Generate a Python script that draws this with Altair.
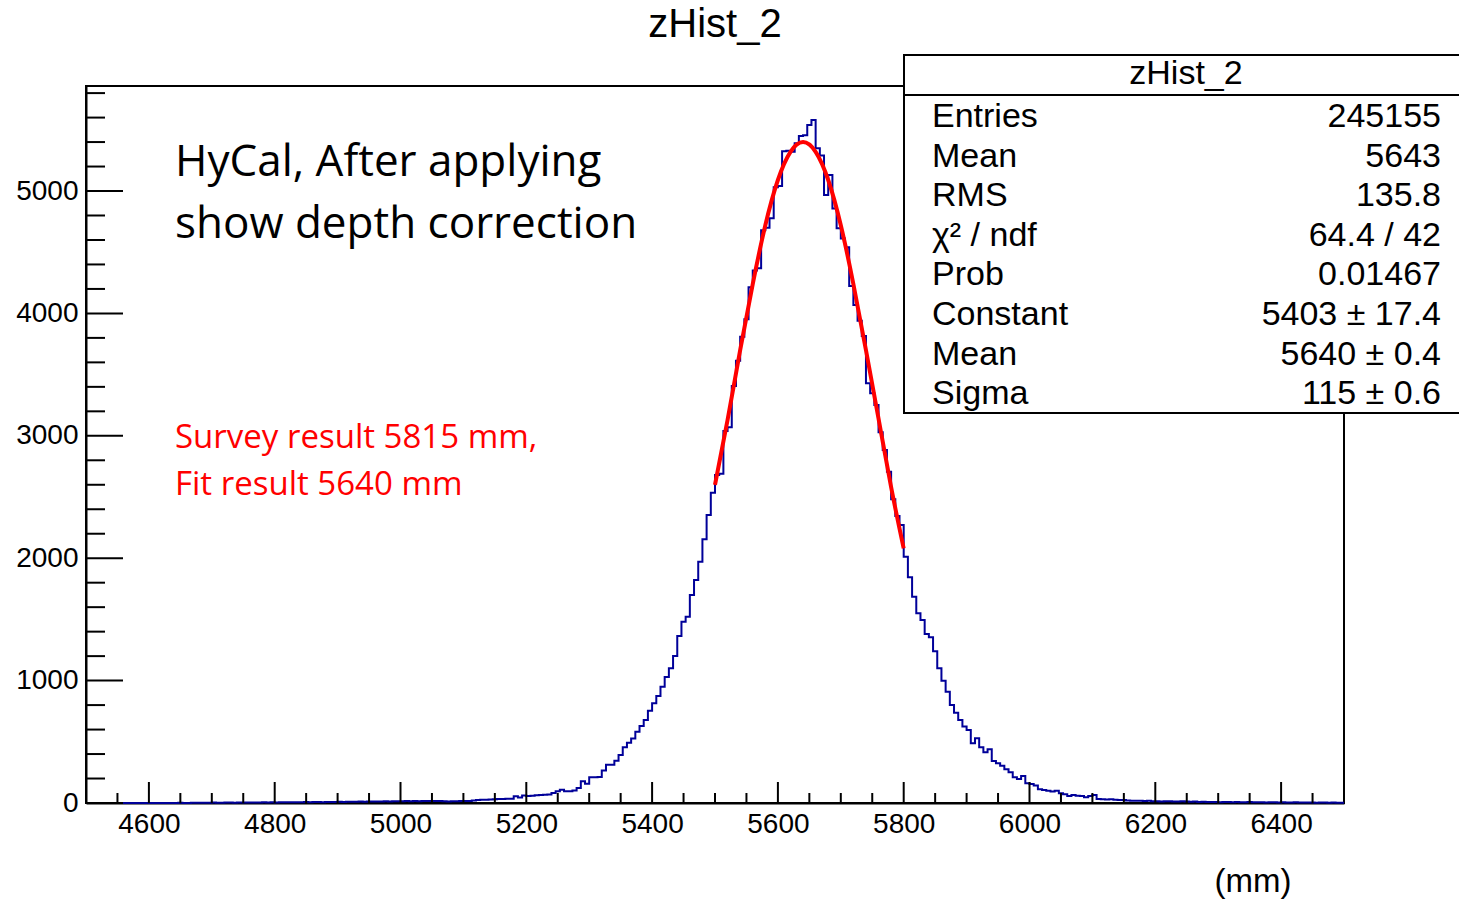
import altair as alt
import pandas as pd

# ---------------- data ----------------
x_min, x_max = 4500, 6500
n_bins = 300
counts = (
    [0, 0, 0, 0, 1, 0, 0, 1, 0, 0, 1, 0, 1, 0, 0, 1, 1, 0, 1, 1, 0, 1, 2, 1, 1, 2, 2]
    + [3, 2, 3, 4, 3, 3, 4, 4, 3, 5, 4, 5, 5, 4, 5, 6, 5, 6, 5, 6, 7, 6, 7, 6, 7, 8, 7, 8, 8, 7, 9, 8, 9]
    + [10, 9, 10, 11, 10, 12, 11, 12, 13, 12, 13, 14, 13, 15, 14, 15, 16, 15, 16, 15, 17, 16, 17, 16, 17]
    + [14, 13, 15, 14, 16, 17, 16, 20, 24, 27, 26, 28, 31, 33, 32, 35, 34]
    + [55, 45, 62, 58, 60, 63, 65, 67, 70, 82, 95, 109, 95, 96, 103, 122, 177, 158, 210, 210,
       212, 265, 313, 313, 346, 393, 455, 493, 528, 583, 629, 678, 754, 814, 874, 950, 1030, 1100, 1201, 1364]
    + [1481, 1522, 1699, 1822, 1971, 2154, 2353, 2535, 2680, 2690, 3040, 3070, 3407, 3614, 3810,
       3952, 4213, 4350, 4370, 4680, 4700, 4777, 5030, 5040, 5325, 5330, 5320, 5390, 5449, 5455,
       5539, 5580, 5350, 5290, 4967, 5131, 4858, 4695, 4613, 4540]
    + [4224, 4069, 3940, 3815, 3429, 3347, 3252, 3030, 2884, 2707, 2481, 2345, 2271, 2012, 1844,
       1686, 1550, 1495, 1381, 1354, 1240, 1100, 999, 909, 801, 738, 678, 624, 597, 488,
       529, 455, 414, 439, 343, 324, 305, 275, 251, 210, 196, 221, 161, 155, 142,
       112, 107, 101, 93, 101, 79, 71, 57, 65, 60, 57, 46, 57, 65, 33]
    + [31, 29, 30, 26, 25, 24, 20, 19, 18, 19, 17, 18, 15, 14, 13, 15, 14, 12, 13, 14, 12, 11, 12]
    + [9, 10, 8, 9, 8, 7, 9, 8, 7, 8, 6, 7, 8, 6, 7, 6, 5, 7, 6, 5, 6, 5, 4, 6, 5, 4, 5, 4, 3, 5, 4, 3, 4, 3, 3]
)
assert len(counts) == n_bins

fit_x = [5500, 5520, 5540, 5560, 5580, 5600, 5620, 5640, 5660, 5680, 5700, 5720, 5740, 5760, 5780, 5800]
fit_y = [2600, 3130, 3700, 4240, 4720, 5090, 5320, 5400, 5320, 5090, 4720, 4240, 3700, 3140, 2580, 2080]

x_major = [4600, 4800, 5000, 5200, 5400, 5600, 5800, 6000, 6200, 6400]
x_minor = [v for v in range(4550, 6500, 50) if v not in x_major]
y_major = [0, 1000, 2000, 3000, 4000, 5000]
y_minor = [v for v in range(200, 5801, 200) if v not in y_major]

hist_title = "zHist_2"
stat_labels = ["Entries", "Mean", "RMS", "χ² / ndf", "Prob", "Constant", "Mean", "Sigma"]
stat_values = ["245155", "5643", "135.8", "64.4 / 42", "0.01467", "5403 ± 17.4", "5640 ± 0.4", "115 ± 0.6"]
note_lines = ["HyCal, After applying", "show depth correction"]
red_lines = ["Survey result 5815 mm,", "Fit result 5640 mm"]
x_title = "(mm)"

# ---------------- build ----------------
W, H = 1258, 717
bw = (x_max - x_min) / n_bins
edges = [x_min + i * bw for i in range(n_bins + 1)]
hdf = pd.DataFrame({"x": edges, "y": counts + [counts[-1]]})
fdf = pd.DataFrame({"x": fit_x, "y": fit_y})

xs = alt.Scale(domain=[x_min, x_max], nice=False, zero=False)
ys = alt.Scale(domain=[0, 5858], nice=False)
LF = "Liberation Sans"
one = alt.Data(values=[{}])

hist = alt.Chart(hdf).mark_line(interpolate="step-after", color="#000099", strokeWidth=2).encode(
    x=alt.X("x:Q", scale=xs, axis=alt.Axis(values=x_major, format="d", title=None, ticks=False,
                                            domain=True, domainColor="black", domainWidth=2, grid=False,
                                            labelFontSize=28, labelFont=LF, labelColor="black",
                                            labelPadding=7, labelFlush=False, labelOverlap=False)),
    y=alt.Y("y:Q", scale=ys, axis=alt.Axis(values=y_major, format="d", title=None, ticks=False,
                                            domain=True, domainColor="black", domainWidth=2, grid=False,
                                            labelFontSize=28, labelFont=LF, labelColor="black",
                                            labelPadding=8, labelFlush=False, labelOverlap=False)),
)

fit = alt.Chart(fdf).mark_line(interpolate="natural", color="#ff0000", strokeWidth=4).encode(
    x=alt.X("x:Q", scale=xs), y=alt.Y("y:Q", scale=ys))

def xticks(vals, length):
    return alt.Chart(pd.DataFrame({"x": vals})).mark_rule(color="black", strokeWidth=2).encode(
        x=alt.X("x:Q", scale=xs), y=alt.value(H), y2=alt.value(H - length))

def yticks(vals, length):
    return alt.Chart(pd.DataFrame({"y": vals})).mark_rule(color="black", strokeWidth=2).encode(
        y=alt.Y("y:Q", scale=ys), x=alt.value(0), x2=alt.value(length))

frame = alt.Chart(one).mark_rect(filled=False, stroke="black", strokeWidth=2).encode(
    x=alt.value(0), x2=alt.value(W), y=alt.value(0), y2=alt.value(H))

box = alt.Chart(one).mark_rect(fill="white", stroke="black", strokeWidth=2).encode(
    x=alt.value(818), x2=alt.value(1400), y=alt.value(-31), y2=alt.value(327))
sep = alt.Chart(one).mark_rule(color="black", strokeWidth=2).encode(
    x=alt.value(818), x2=alt.value(1400), y=alt.value(9))

def txt(s, x, y, size, align="left", color="black", font=LF):
    return alt.Chart(one).mark_text(text=s, align=align, baseline="middle", fontSize=size,
                                    font=font, color=color).encode(x=alt.value(x), y=alt.value(y))

texts = [txt(hist_title, 629, -61, 40, "center"),
         txt(hist_title, 1100, -12, 34, "center"),
         txt(x_title, 1167, 796, 33, "center")]
for i, (lab, val) in enumerate(zip(stat_labels, stat_values)):
    yy = 31 + i * 39.6
    texts.append(txt(lab, 846, yy, 34, "left"))
    texts.append(txt(val, 1355, yy, 34, "right"))
for i, s in enumerate(note_lines):
    texts.append(txt(s, 89, 77 + i * 62, 44, "left", "black", "Open Sans"))
for i, s in enumerate(red_lines):
    texts.append(txt(s, 89, 352 + i * 47, 33, "left", "#ff0000", "Open Sans"))

chart = alt.layer(
    frame, hist, fit,
    xticks(x_major, 21), xticks(x_minor, 10), yticks(y_major, 37), yticks(y_minor, 19),
    box, sep, *texts
).properties(
    width=W, height=H, autosize="none",
    padding={"left": 86, "top": 86, "right": 115, "bottom": 98},
    background="white",
).configure_view(strokeWidth=0)

chart.save("out.html", embed_options={"renderer": "svg", "actions": False})
